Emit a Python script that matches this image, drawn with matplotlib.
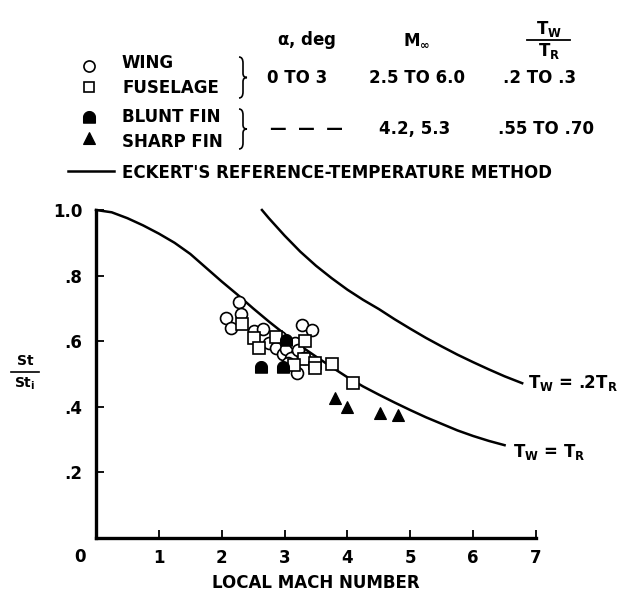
"""St/St_i against local Mach number, with Eckert reference-temperature curves."""

import numpy as np
import matplotlib

matplotlib.use("Agg")
import matplotlib.pyplot as plt
from matplotlib.path import Path
from matplotlib.patches import PathPatch

plt.rcParams["font.family"] = ["DejaVu Sans"]
plt.rcParams["font.weight"] = "bold"
plt.rcParams["axes.labelweight"] = "bold"
plt.rcParams["mathtext.fontset"] = "custom"
plt.rcParams["mathtext.rm"] = "DejaVu Sans:bold"
plt.rcParams["mathtext.it"] = "DejaVu Sans:bold"
plt.rcParams["mathtext.bf"] = "DejaVu Sans:bold"

# --- data -----------------------------------------------------------------
# Eckert's reference-temperature method, T_W = T_R
eckert_tr_mach = [0.0, 0.25, 0.5, 0.75, 1.0, 1.25, 1.5, 1.75, 2.0, 2.25, 2.5,
                  2.75, 3.0, 3.25, 3.5, 3.75, 4.0, 4.25, 4.5, 4.75, 5.0, 5.25,
                  5.5, 5.75, 6.0, 6.25, 6.5]
eckert_tr_ratio = [1.0, 0.993, 0.975, 0.953, 0.928, 0.90, 0.866, 0.824, 0.782,
                   0.742, 0.70, 0.66, 0.622, 0.586, 0.553, 0.521, 0.49, 0.462,
                   0.437, 0.413, 0.39, 0.368, 0.348, 0.328, 0.311, 0.296, 0.283]

# Eckert's reference-temperature method, T_W = .2 T_R
eckert_02_mach = [2.64, 2.75, 3.0, 3.25, 3.5, 3.75, 4.0, 4.25, 4.5, 4.75, 5.0,
                  5.25, 5.5, 5.75, 6.0, 6.25, 6.5, 6.78]
eckert_02_ratio = [1.0, 0.975, 0.922, 0.873, 0.83, 0.792, 0.757, 0.726, 0.698,
                   0.667, 0.638, 0.61, 0.584, 0.559, 0.536, 0.514, 0.493, 0.472]

wing_mach = [2.07, 2.15, 2.27, 2.31, 2.52, 2.66, 2.75, 2.87, 2.93, 2.97, 3.03,
             3.10, 3.16, 3.20, 3.22, 3.28, 3.31, 3.43, 3.05]
wing_ratio = [0.67, 0.641, 0.72, 0.684, 0.63, 0.638, 0.594, 0.578, 0.614, 0.56,
              0.575, 0.55, 0.594, 0.502, 0.573, 0.648, 0.548, 0.633, 0.535]

fuselage_mach = [2.33, 2.52, 2.60, 2.86, 3.32, 3.31, 3.15, 3.49, 3.49, 3.76, 4.09]
fuselage_ratio = [0.652, 0.61, 0.578, 0.614, 0.600, 0.545, 0.528, 0.535, 0.518,
                  0.530, 0.472]

blunt_fin_mach = [2.63, 2.97, 3.03]
blunt_fin_ratio = [0.52, 0.52, 0.605]

sharp_fin_mach = [3.80, 3.99, 4.52, 4.81]
sharp_fin_ratio = [0.428, 0.40, 0.38, 0.374]

x_ticks = [1, 2, 3, 4, 5, 6, 7]
y_ticks = [0.2, 0.4, 0.6, 0.8, 1.0]
y_tick_labels = [".2", ".4", ".6", ".8", "1.0"]

# --- figure -----------------------------------------------------------------
W, H = 626, 593
FS = 12

fig = plt.figure(figsize=(W / 100, H / 100), dpi=100)

# filled "dome" marker used for the blunt fin
theta = np.linspace(0.0, np.pi, 24)
dome = Path(list(zip(np.cos(theta), np.sin(theta))) + [(-1.0, -0.95), (1.0, -0.95), (1.0, 0.0)])

ax = fig.add_axes([96 / W, (H - 538) / H, 440 / W, 328 / H])
ax.set_facecolor("none")
ax.set_xlim(0, 7)
ax.set_ylim(0, 1.0)
for side in ("top", "right"):
    ax.spines[side].set_visible(False)
for side in ("left", "bottom"):
    ax.spines[side].set_linewidth(2.4)
ax.set_xticks(x_ticks)
ax.set_yticks(y_ticks, y_tick_labels)
ax.tick_params(direction="in", length=6, width=1.3, labelsize=FS)
ax.tick_params(axis="x", pad=8)
ax.tick_params(axis="y", pad=10)
ax.text(-0.25, -0.058, "0", ha="center", va="center", fontsize=FS,
        transform=ax.get_xaxis_transform(), clip_on=False)
ax.set_xlabel("LOCAL MACH NUMBER", fontsize=FS, labelpad=5)

ax.plot(eckert_tr_mach, eckert_tr_ratio, color="black", lw=1.8, clip_on=False)
ax.plot(eckert_02_mach, eckert_02_ratio, color="black", lw=1.8, clip_on=False)

mk = dict(linestyle="none", color="black", clip_on=False)
ax.plot(wing_mach, wing_ratio, marker="o", ms=8.6, mfc="white", mew=1.2, **mk)
ax.plot(fuselage_mach, fuselage_ratio, marker="s", ms=8.0, mfc="white", mew=1.2, **mk)
ax.plot(blunt_fin_mach, blunt_fin_ratio, marker=dome, ms=8.6, mfc="black", mew=0.8, **mk)
ax.plot(sharp_fin_mach, sharp_fin_ratio, marker="^", ms=9.0, mfc="black", mew=0.8, **mk)

ax.text(6.87, 0.457, r"$\mathregular{T_W}$ = .2$\mathregular{T_R}$", fontsize=FS,
        ha="left", va="baseline", clip_on=False)
ax.text(6.63, 0.247, r"$\mathregular{T_W}$ = $\mathregular{T_R}$", fontsize=FS,
        ha="left", va="baseline", clip_on=False)

# --- header / key, laid out in pixel coordinates ---------------------------
ov = fig.add_axes([0, 0, 1, 1], zorder=-1)
ov.set_xlim(0, W)
ov.set_ylim(H, 0)
ov.axis("off")


def brace(x, y0, y1, w):
    ym = (y0 + y1) / 2
    h = y1 - y0
    verts = [(x, y0), (x + w * 0.5, y0), (x + w * 0.5, y0 + h * 0.15),
             (x + w * 0.5, ym - h * 0.1), (x + w * 0.5, ym), (x + w, ym),
             (x + w * 0.5, ym), (x + w * 0.5, ym + h * 0.1),
             (x + w * 0.5, y1 - h * 0.15), (x + w * 0.5, y1), (x, y1)]
    codes = [Path.MOVETO, Path.CURVE3, Path.CURVE3, Path.LINETO, Path.CURVE3,
             Path.CURVE3, Path.CURVE3, Path.CURVE3, Path.LINETO, Path.CURVE3,
             Path.CURVE3]
    ov.add_patch(PathPatch(Path(verts, codes), fill=False, lw=1.2, color="black"))


txt = dict(fontsize=FS, va="center")
ov.text(307, 40, r"$\mathregular{\alpha}$, deg", ha="center", **txt)
ov.text(417, 40, r"$\mathregular{M_\infty}$", ha="center", **txt)
ov.text(549, 29, r"$\mathregular{T_W}$", ha="center", **txt)
ov.plot([527, 570], [40, 40], color="black", lw=1.3)
ov.text(549, 51, r"$\mathregular{T_R}$", ha="center", **txt)

ov.plot([89], [66], marker="o", ms=8.0, mfc="white", mec="black", mew=1.2)
ov.plot([89], [87], marker="s", ms=7.5, mfc="white", mec="black", mew=1.2)
ov.plot([89], [117], marker=dome, ms=8.6, mfc="black", mec="black", mew=0.8)
ov.plot([89], [138], marker="^", ms=9.0, mfc="black", mec="black", mew=0.8)
ov.text(122, 63, "WING", ha="left", **txt)
ov.text(122, 88, "FUSELAGE", ha="left", **txt)
ov.text(122, 117, "BLUNT FIN", ha="left", **txt)
ov.text(122, 142, "SHARP FIN", ha="left", **txt)
brace(239, 57, 98, 8)
brace(239, 109, 149, 8)

ov.text(297, 78, "0 TO 3", ha="center", **txt)
ov.text(417, 78, "2.5 TO 6.0", ha="center", **txt)
ov.text(540, 78, ".2 TO .3", ha="center", **txt)
ov.text(306, 129, "\u2014  \u2014  \u2014", ha="center", **txt)
ov.text(415, 129, "4.2, 5.3", ha="center", **txt)
ov.text(546, 129, ".55 TO .70", ha="center", **txt)

ov.plot([68, 114], [171, 171], color="black", lw=1.8)
ov.text(122, 173, "ECKERT'S REFERENCE-TEMPERATURE METHOD", ha="left", **txt)

# y-axis label as a stacked fraction
ov.text(25, 361, "St", ha="center", fontsize=10, va="center")
ov.plot([11, 39], [372, 372], color="black", lw=1.2)
ov.text(25, 384, r"$\mathregular{St_i}$", ha="center", fontsize=10, va="center")

fig.savefig("out.png", dpi=100)
